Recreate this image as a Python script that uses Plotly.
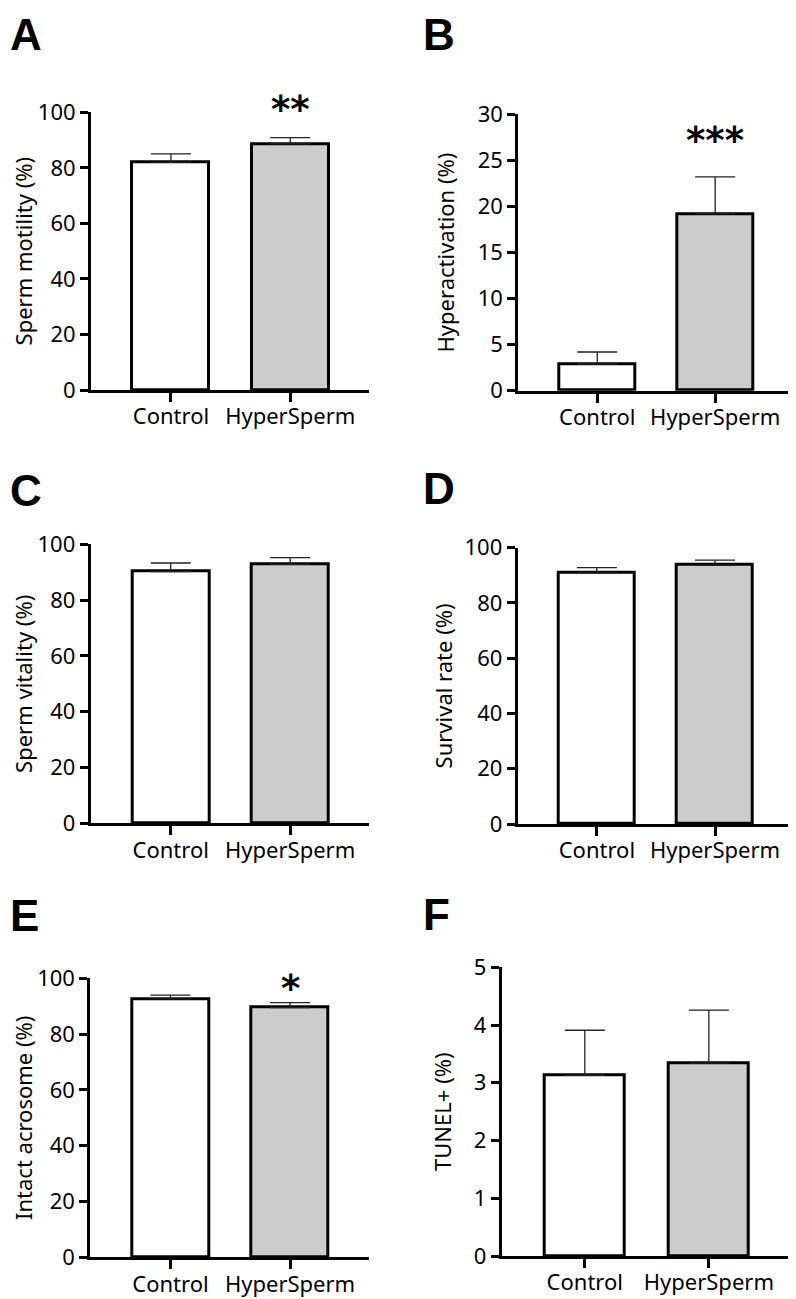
import plotly.graph_objects as go

# picture size and the page offset (browser body margin)
W, H = 796, 1299
OX, OY = 8, 8

groups = ["Control", "HyperSperm"]
bar_colors = ["#ffffff", "#cccccc"]

motility = [82.0, 88.6]
motility_err = [3.0, 2.3]
hyperact = [2.9, 19.2]
hyperact_err = [1.3, 4.0]
vitality = [90.2, 92.8]
vitality_err = [3.1, 2.4]
survival = [90.9, 93.7]
survival_err = [1.9, 1.8]
acrosome = [92.6, 89.5]
acrosome_err = [1.4, 1.8]
tunel = [3.13, 3.34]
tunel_err = [0.78, 0.92]

# panel: letter, values, errors, y title, y max, dtick, stars,
# pixel box on the picture (x0, x1, ytop, ybottom), title standoff, star y (domain frac)
panels = [
    ("A", motility, motility_err, "Sperm motility (%)", 100, 20, "**",
     (91, 369, 112.3, 390), 6, 1.01),
    ("B", hyperact, hyperact_err, "Hyperactivation (%)", 30, 5, "***",
     (518.3, 793, 114.3, 390.7), 18, 0.905),
    ("C", vitality, vitality_err, "Sperm vitality (%)", 100, 20, "",
     (90.7, 369, 544.3, 823.3), 6, 0),
    ("D", survival, survival_err, "Survival rate (%)", 100, 20, "",
     (517.7, 793, 547.7, 824), 6, 0),
    ("E", acrosome, acrosome_err, "Intact acrosome (%)", 100, 20, "*",
     (90.3, 369, 978.3, 1257.3), 5, 0.965),
    ("F", tunel, tunel_err, "TUNEL+ (%)", 5, 1, "",
     (501.7, 790.7, 967.3, 1256), 16, 0),
]

# panel letters: left x, vertical centre (None = pin to the top edge)
label_pos = {"A": (0.0, None), "B": (421, None), "C": (0.0, 491),
             "D": (421, 488), "E": (0.0, 916), "F": (421, 914.5)}

font_main = "Noto Sans, DejaVu Sans, sans-serif"
font_star = "DejaVu Sans, sans-serif"
font_size = 22


def px_x(x):
    return (x - OX) / W


def px_y(y):
    return 1 - (y - OY) / H


fig = go.Figure()
layout = dict(
    width=W, height=H,
    margin=dict(l=0, r=0, t=0, b=0, pad=0),
    paper_bgcolor="white", plot_bgcolor="white",
    showlegend=False,
    font=dict(family=font_main, size=font_size, color="black"),
    bargap=0,
)
annotations = []

for i, (letter, vals, errs, ytitle, ymax, dtick, stars, box, standoff, star_y) in enumerate(panels):
    n = "" if i == 0 else str(i + 1)
    x0, x1, yt, yb = box
    fig.add_trace(go.Bar(
        x=groups, y=vals,
        width=0.645,
        marker=dict(color=bar_colors, line=dict(color="black", width=3)),
        error_y=dict(type="data", array=errs, arrayminus=[0, 0], symmetric=False,
                     color="#222222", thickness=1.3, width=20),
        xaxis="x" + n, yaxis="y" + n,
    ))
    layout["xaxis" + n] = dict(
        domain=[px_x(x0), px_x(x1)], anchor="y" + n,
        type="category", range=[-0.67, 1.66], automargin=False,
        showline=True, linecolor="black", linewidth=3,
        ticks="outside", ticklen=9, tickwidth=2.5, tickcolor="black",
        ticklabelstandoff=-4,
        showgrid=False, zeroline=False,
        tickfont=dict(size=font_size, color="black"),
    )
    layout["yaxis" + n] = dict(
        domain=[px_y(yb), px_y(yt)], anchor="x" + n,
        range=[0, ymax], dtick=dtick, tick0=0, automargin=False,
        showline=True, linecolor="black", linewidth=3,
        ticks="outside", ticklen=8, tickwidth=2.5, tickcolor="black",
        showgrid=False, zeroline=False,
        tickfont=dict(size=font_size, color="black"),
        title=dict(text=ytitle, standoff=standoff, font=dict(size=font_size, color="black")),
    )
    if stars:
        annotations.append(dict(
            x=groups[1], y=star_y, xref="x" + n, yref="y" + n + " domain",
            text="<b>" + stars + "</b>", showarrow=False,
            font=dict(size=37, color="black", family=font_star),
            xanchor="center", yanchor="middle",
        ))
    lx, ly = label_pos[letter]
    label = dict(
        x=max(px_x(lx), 0), xref="paper", yref="paper",
        text="<b>" + letter + "</b>", showarrow=False,
        font=dict(size=44, color="black", family="Liberation Sans, Arial, sans-serif"),
        xanchor="left",
    )
    if ly is None:
        label.update(y=1, yanchor="top")
    else:
        label.update(y=px_y(ly), yanchor="middle")
    annotations.append(label)

layout["annotations"] = annotations
fig.update_layout(**layout)

fig.write_html("out.html")
